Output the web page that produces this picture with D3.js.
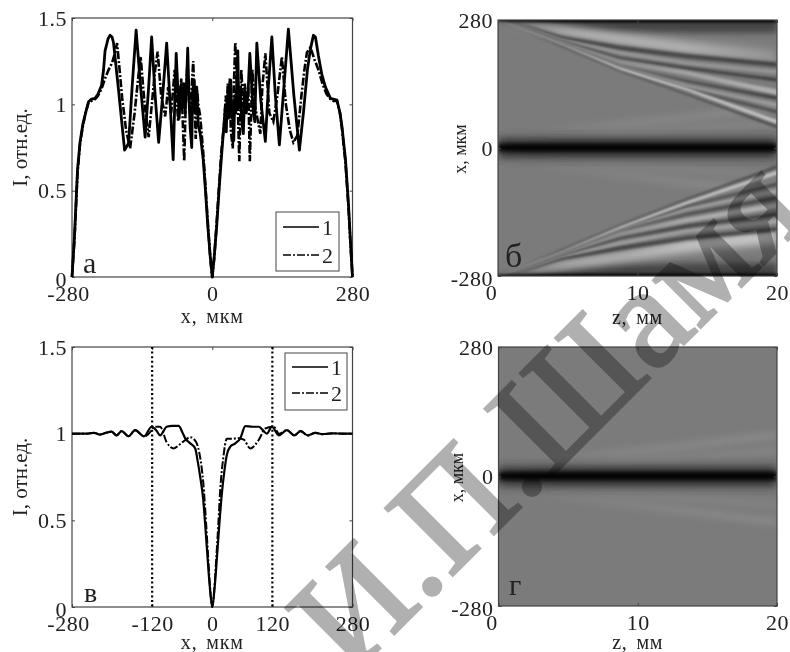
<!DOCTYPE html>
<html>
<head>
<meta charset="utf-8">
<script src="https://cdn.jsdelivr.net/npm/d3@7"></script>
<style>
  body { margin: 0; background: #fff; }
  text { font-family: "Liberation Serif", serif; fill: #222; }
</style>
</head>
<body>
<div id="d3-container"></div>
<script>
// panel a, x in mkm, I in rel. units
const curveA1 = [[-280,0],[-275,.24],[-269,.62],[-264,.78],[-258,.89],[-252,.96],[-247,1.015],[-241,1.03],[-234,1.035],[-228,1.06],[-221,1.11],[-217,1.2],[-214,1.31],[-208,1.38],[-204,1.40],[-200,1.39],[-197,1.355],[-187,1.08],[-175,.735],[-167,.775],[-160,1.1],[-152,1.43],[-143,1.1],[-134,.81],[-127,1.1],[-121,1.39],[-114,1.05],[-107,.78],[-99,1.05],[-91,1.355],[-84,1.0],[-78,.68],[-72,1.295],[-66,.92],[-63,1.1],[-60,.98],[-57,1.12],[-54,.95],[-51,1.15],[-49,1.325],[-46,1.0],[-44,.86],[-41,.75],[-39,1.08],[-36,1.14],[-34,.95],[-31,1.1],[-28,.88],[-24,.83],[-18,.68],[-14,.52],[-9,.3],[-4,.12],[0,0],[4,.12],[9,.3],[14,.52],[18,.68],[23,.87],[26,.98],[28,.84],[30,1.05],[33,.92],[35,1.1],[37,1.14],[39,.92],[41,1.0],[43,.79],[45,1.05],[47,.95],[49,1.15],[51,1.31],[53,.98],[56,1.1],[59,.9],[62,.83],[65,1.08],[68,.95],[72,1.1],[75,1.295],[82,.95],[85,.9],[89,1.355],[97,1.02],[106,.785],[112,1.1],[119,1.39],[126,1.05],[134,.765],[143,1.1],[152,1.435],[163,1.05],[174,.735],[182,.95],[190,1.2],[196,1.32],[202,1.40],[206,1.39],[212,1.28],[219,1.17],[226,1.10],[236,1.035],[242,1.03],[249,1.025],[255,.95],[259,.87],[266,.68],[272,.42],[276,.2],[280,0]];
const curveA2 = [[-280,0],[-275,.22],[-269,.6],[-264,.77],[-258,.88],[-252,.96],[-247,1.01],[-241,1.02],[-234,1.03],[-228,1.05],[-221,1.09],[-214,1.15],[-207,1.2],[-200,1.24],[-194,1.3],[-190,1.355],[-185,1.2],[-180,1.04],[-172,.85],[-164,.745],[-155,.95],[-148,1.15],[-143,1.275],[-135,1.0],[-127,.81],[-119,1.05],[-114,1.2],[-109,1.305],[-102,1.05],[-94,.93],[-88,1.1],[-82,.95],[-75,1.2],[-68,.9],[-62,1.15],[-56,.67],[-53,1.0],[-50,1.22],[-47,1.05],[-44,.95],[-41,1.1],[-38,1.25],[-35,1.0],[-33,.8],[-30,1.08],[-28,1.0],[-24,.93],[-18,.72],[-13,.5],[-8,.28],[-4,.11],[0,0],[4,.11],[8,.28],[13,.5],[18,.72],[24,.9],[27,1.05],[29,.98],[31,1.12],[33,1.0],[35,1.15],[37,.85],[41,.745],[43,1.1],[46,1.36],[48,1.18],[50,1.1],[54,.67],[58,1.2],[62,.98],[65,1.12],[68,1.0],[72,1.1],[75,.67],[80,1.2],[86,.98],[96,.83],[100,1.1],[106,1.295],[114,.95],[122,.9],[130,1.05],[139,1.275],[147,1.0],[155,.85],[162,.78],[170,.82],[178,1.05],[184,1.2],[189,1.30],[196,1.33],[204,1.26],[212,1.2],[220,1.12],[228,1.06],[236,1.03],[242,1.02],[249,1.02],[255,.95],[259,.86],[266,.66],[272,.4],[276,.19],[280,0]];

// panel v
const curveB1 = [[-280,1],[-250,1],[-236,1.005],[-224,.995],[-212,1.005],[-201,1.012],[-191,.99],[-181,1.015],[-167,.985],[-154,1.02],[-136,.985],[-121,1.04],[-112,1.02],[-104,.99],[-91,1.04],[-80,1.045],[-67,1.045],[-60,1.01],[-54,.973],[-44,.944],[-34,.915],[-29,.84],[-24,.75],[-18,.62],[-14,.47],[-10,.31],[-5,.12],[0,0],[5,.12],[10,.31],[14,.47],[19,.65],[24,.78],[29.3,.88],[36,.925],[46,.944],[56,.973],[66,1.044],[80,1.04],[93,1.04],[101,1.02],[109,1],[119,1.04],[133,.99],[149,1.02],[164,.99],[176,1.015],[191,.99],[206,1.005],[220,.997],[240,1.002],[260,1],[280,1]];
const curveB2 = [[-280,1],[-250,1],[-236,1.005],[-224,.995],[-212,1.005],[-201,1.012],[-191,.99],[-181,1.015],[-167,.985],[-154,1.02],[-136,.985],[-121,1.02],[-117,1.04],[-104,1.04],[-91,.95],[-77,.915],[-64,.94],[-53,.965],[-44,.98],[-32,.95],[-24,.86],[-18,.72],[-12,.47],[-8,.28],[-4,.1],[0,0],[4,.1],[8,.28],[12,.47],[16,.68],[22,.86],[29,.97],[40,.97],[50,.975],[63,.965],[76,.915],[93,.965],[106,1.03],[123,1.04],[133,1],[149,1.02],[164,.99],[176,1.015],[191,.99],[206,1.005],[220,.997],[240,1.002],[260,1],[280,1]];

const xTicksA = [-280, 0, 280];
const xTicksB = [-280, -120, 0, 120, 280];
const yTicks = [0, 0.5, 1, 1.5];
const zTicks = [0, 10, 20];
const mapTicks = [-280, 0, 280];
const dotted = [-120, 120];

// field maps: every band is a strip along z, [centre x], [half width], [level]; level 1 = background
const rayZ = [0, 2, 4.6, 8.75, 13.5, 20];

const edgeTop = [[280,280,280,280,280,280],[4,12,22,26,28,28],[.55,.55,.55,.55,.55,.55],3];
const edgeTopCore = [[282,282,282,282,282,282],[5,6,7,7,7,7],[0,0,0,0,0,0],1.5];
const edgeBot = [[-280,-280,-280,-280,-280,-280],[4,12,22,26,28,28],[.55,.55,.55,.55,.55,.55],3];
const edgeBotCore = [[-282,-282,-282,-282,-282,-282],[5,6,7,7,7,7],[0,0,0,0,0,0],1.5];
const centreWide = [[0,0,0,0,0,0],[20,20,21,21,21,21],[.35,.35,.35,.35,.35,.35],5];
const centreCore = [[1,1,1,1,1,1],[7,8,8,8,8,8],[0,0,0,0,0,0],2];

const raysUpper = [
  [[280,271,258,238,219,199],[1,4,8,11,13,14],[1.3,1.55,1.6,1.5,1.45,1.2],4],
  [[279,266,241,219,201,182],[1,3,4,5,5,5],[.8,.65,.55,.55,.55,.5],1.5],
  [[279,263,236,208,186,166],[1,2,3,4,4,4],[1,1.1,1.15,1.2,1.2,1.2],1.2],
  [[278,261,233,197,175,149],[1,2,3,3,4,4],[1,.8,.75,.65,.6,.55],1.2],
  [[278,259,230,188,164,122],[1,2,3,4,5,6],[1,1,1.1,1.15,1.3,1.4],1.2],
  [[278,258,228,180,147,109],[1,1,2,2,3,4],[1,.9,.9,.9,.65,.55],1],
  [[278,257,227,178,136,94],[1,1,2,2,3,4],[1,1,1,1.1,1.2,1.25],1],
  [[278,256,226,177,129,79],[1,1,2,2,3,4],[1,.9,.9,.85,.75,.65],1],
  [[278,256,225,173,129,57],[1,1,2,3,3,4],[1.1,1.5,1.45,1.55,1.55,1.55],1],
  [[277,254,222,168,118,46],[1,1,2,2,2,3],[.9,.7,.7,.7,.65,.6],1]
];
const raysLower = [
  [[-280,-271,-258,-238,-214,-193],[1,4,8,11,13,15],[1.3,1.5,1.55,1.45,1.6,1.6],4],
  [[-279,-266,-241,-219,-197,-177],[1,3,4,5,5,5],[.8,.65,.55,.55,.55,.55],1.5],
  [[-279,-263,-236,-208,-182,-160],[1,2,3,4,4,5],[1,1.1,1.2,1.25,1.25,1.3],1.2],
  [[-278,-261,-233,-197,-171,-145],[1,2,3,3,4,4],[1,.8,.75,.65,.6,.55],1.2],
  [[-278,-259,-230,-188,-158,-126],[1,2,3,4,5,6],[1,1,1.1,1.15,1.35,1.4],1.2],
  [[-278,-258,-228,-180,-145,-109],[1,1,2,2,3,4],[1,.9,.85,.85,.65,.6],1],
  [[-278,-257,-227,-176,-134,-94],[1,1,2,2,3,4],[1,1,1.05,1.15,1.25,1.3],1],
  [[-278,-256,-226,-175,-127,-79],[1,1,2,2,3,4],[1,.9,.85,.8,.75,.65],1],
  [[-278,-256,-225,-173,-120,-54],[1,1,2,3,3,4],[1.1,1.4,1.4,1.5,1.55,1.55],1],
  [[-277,-254,-222,-168,-112,-41],[1,1,2,2,2,3],[.9,.7,.7,.7,.65,.6],1]
];
const faintRays = [
  [[40,40,42,52,66,90],[4,4,6,8,9,9],[1,1,1.03,1.08,1.08,1.1],3],
  [[-42,-42,-46,-58,-75,-98],[4,4,6,8,9,9],[1,1,1.03,1.06,1.08,1.1],3],
  [[30,30,30,36,42,56],[3,3,5,6,6,7],[1,1,1.02,1.06,1.06,1.08],3],
  [[-30,-32,-34,-40,-48,-62],[3,3,5,6,6,7],[1,1,1.02,1.05,1.06,1.06],3]
];

const watermarkText = "И.П.Шамя";

const width = 790,
  height = 652;

const panelA = { left: 72, right: 352.5, top: 18, bottom: 277 },
  panelB = { left: 72, right: 352.5, top: 347, bottom: 607 },
  panelC = { left: 498, right: 777, top: 20, bottom: 276 },
  panelD = { left: 498.5, right: 777, top: 347, bottom: 606 };

const svg = d3.select("#d3-container")
  .append("svg")
  .attr("width", width)
  .attr("height", height)
  .style("display", "block");

const defs = svg.append("defs");

const level = d3.scaleLinear()
  .domain([0, 1, 2])
  .range(["#000000", "#7b7b7b", "#ffffff"]);

function blurId(s) {
  const id = "blur" + String(s).replace(".", "_");
  if (defs.select("#" + id).empty()) {
    defs.append("filter")
      .attr("id", id)
      .attr("filterUnits", "userSpaceOnUse")
      .attr("x", 0).attr("y", 0)
      .attr("width", width).attr("height", height)
      .append("feGaussianBlur")
      .attr("stdDeviation", s);
  }
  return id;
}

function axes(g, p, xScale, yScale, xVals, yVals, yFmt, firstShift) {
  g.append("rect")
    .attr("x", p.left).attr("y", p.top)
    .attr("width", p.right - p.left).attr("height", p.bottom - p.top)
    .attr("fill", "none").attr("stroke", "#444").attr("stroke-width", 1.2);

  const xAxis = g.append("g")
    .attr("transform", `translate(0, ${p.bottom})`)
    .call(d3.axisBottom(xScale).tickValues(xVals).tickSize(-3).tickPadding(6).tickFormat(d => d));
  const yAxis = g.append("g")
    .attr("transform", `translate(${p.left}, 0)`)
    .call(d3.axisLeft(yScale).tickValues(yVals).tickSize(-3).tickPadding(5).tickFormat(yFmt));

  g.append("g")
    .attr("transform", `translate(0, ${p.top})`)
    .call(d3.axisTop(xScale).tickValues(xVals).tickSize(-3).tickFormat(""));
  g.append("g")
    .attr("transform", `translate(${p.right}, 0)`)
    .call(d3.axisRight(yScale).tickValues(yVals).tickSize(-3).tickFormat(""));

  g.selectAll(".domain").remove();
  g.selectAll(".tick line").attr("stroke", "#444");
  [xAxis, yAxis].forEach(a => a.selectAll("text")
    .attr("font-family", "Liberation Serif")
    .attr("font-size", 22)
    .attr("letter-spacing", 0.5)
    .attr("fill", "#222"));
  xAxis.selectAll("text").attr("y", 8).attr("dy", "0.71em")
    .attr("dx", d => d === xVals[0] ? firstShift : 0);
  yAxis.selectAll("text").attr("dy", d => d === yVals[0] ? "0.45em" : "0.32em");
}

// line panels
function linePanel(p, xVals, curve1, curve2, letter, letterPos, legend, xLab, curveType) {
  const g = svg.append("g");
  const x = d3.scaleLinear().domain([-280, 280]).range([p.left, p.right]);
  const y = d3.scaleLinear().domain([0, 1.5]).range([p.bottom, p.top]);
  const line = d3.line().x(d => x(d[0])).y(d => y(d[1])).curve(curveType);

  axes(g, p, x, y, xVals, yTicks, d => d, -4);

  g.append("path").datum(curve1)
    .attr("d", line).attr("fill", "none").attr("stroke", "#000")
    .attr("stroke-width", letter == "а" ? 2.8 : 2.2).attr("stroke-linejoin", "round");
  g.append("path").datum(curve2)
    .attr("d", line).attr("fill", "none").attr("stroke", "#000")
    .attr("stroke-width", letter == "а" ? 2.6 : 2).attr("stroke-dasharray", "8,2,2,2");

  g.append("text").attr("x", letterPos[0]).attr("y", letterPos[1])
    .attr("font-size", letterPos[2]).text(letter);

  g.append("rect").attr("x", legend.x).attr("y", legend.y)
    .attr("width", legend.w).attr("height", legend.h)
    .attr("fill", "#fff").attr("stroke", "#444");
  [["1", null, legend.l1], ["2", "8,2,2,2", legend.l2]].forEach(d => {
    g.append("line")
      .attr("x1", legend.x + 7).attr("x2", legend.x + 43)
      .attr("y1", d[2]).attr("y2", d[2])
      .attr("stroke", "#000").attr("stroke-width", 1.6)
      .attr("stroke-dasharray", d[1]);
    g.append("text").attr("x", legend.x + 46).attr("y", d[2] + 8)
      .attr("font-size", 22).text(d[0]);
  });

  g.append("text")
    .attr("x", (p.left + p.right) / 2).attr("y", xLab)
    .attr("text-anchor", "middle").attr("font-size", 20)
    .attr("letter-spacing", 0.8).attr("word-spacing", 3).text("x, мкм");
  g.append("text")
    .attr("transform", `translate(27, ${(p.top + p.bottom) / 2})rotate(-90)`)
    .attr("text-anchor", "middle").attr("font-size", 21)
    .text("I, отн.ед.");
  return { g, x, y };
}

const a = linePanel(panelA, xTicksA, curveA1, curveA2, "а", [83, 273, 30],
  { x: 276, y: 212, w: 63, h: 59, l1: 227, l2: 255 }, 323, d3.curveLinear);
const b = linePanel(panelB, xTicksB, curveB1, curveB2, "в", [84, 602, 28],
  { x: 285, y: 353, w: 62, h: 57, l1: 367, l2: 393 }, 649, d3.curveMonotoneX);

b.g.selectAll("line.dots")
  .data(dotted)
  .join("line")
  .attr("class", "dots")
  .attr("x1", d => b.x(d)).attr("x2", d => b.x(d))
  .attr("y1", panelB.top).attr("y2", panelB.bottom)
  .attr("stroke", "#000").attr("stroke-width", 2.2)
  .attr("stroke-dasharray", "2,2.6");

// map panels
let gradCount = 0;
function drawBands(g, x, y, bands) {
  bands.forEach(band => {
    const [centre, half, lev, blur] = band;
    const id = "grad" + (gradCount++);
    const grad = defs.append("linearGradient")
      .attr("id", id)
      .attr("gradientUnits", "userSpaceOnUse")
      .attr("x1", x(rayZ[0])).attr("x2", x(rayZ[rayZ.length - 1]))
      .attr("y1", 0).attr("y2", 0);
    rayZ.forEach((z, i) => {
      grad.append("stop")
        .attr("offset", z / rayZ[rayZ.length - 1])
        .attr("stop-color", level(lev[i]));
    });
    const area = d3.area()
      .x((d, i) => x(rayZ[i]))
      .y0((d, i) => y(d + half[i]))
      .y1((d, i) => y(d - half[i]));
    g.append("path").datum(centre)
      .attr("d", area)
      .attr("fill", `url(#${id})`)
      .attr("filter", `url(#${blurId(blur)})`);
  });
}

function mapPanel(p, id, bands, letter, letterPos, xLabY, yLabX) {
  const g = svg.append("g");
  const x = d3.scaleLinear().domain([0, 20]).range([p.left, p.right]);
  const y = d3.scaleLinear().domain([-280, 280]).range([p.bottom, p.top]);

  defs.append("clipPath").attr("id", id).append("rect")
    .attr("x", p.left).attr("y", p.top)
    .attr("width", p.right - p.left).attr("height", p.bottom - p.top);

  const m = g.append("g").attr("clip-path", `url(#${id})`);
  m.append("rect")
    .attr("x", p.left).attr("y", p.top)
    .attr("width", p.right - p.left).attr("height", p.bottom - p.top)
    .attr("fill", level(1));
  drawBands(m, x, y, bands);

  axes(g, p, x, y, zTicks, mapTicks, d => d, -7);
  g.append("text").attr("x", letterPos[0]).attr("y", letterPos[1])
    .attr("font-size", letterPos[2]).attr("fill", "#111").text(letter);
  g.append("text")
    .attr("x", (p.left + p.right) / 2).attr("y", xLabY)
    .attr("text-anchor", "middle").attr("font-size", 20)
    .attr("letter-spacing", 0.8).attr("word-spacing", 3).text("z, мм");
  g.append("text")
    .attr("transform", `translate(${yLabX}, ${(p.top + p.bottom) / 2 + 1})rotate(-90)`)
    .attr("text-anchor", "middle").attr("font-size", 18)
    .text("x, мкм");
}

mapPanel(panelC, "clipC",
  [edgeTop, edgeBot, ...faintRays, ...raysUpper, ...raysLower, edgeTopCore, edgeBotCore, centreWide, centreCore],
  "б", [505, 267, 34], 324, 466);
mapPanel(panelD, "clipD",
  [...faintRays, centreWide, centreCore],
  "г", [509, 595, 30], 649, 463);

// watermark on top of everything
svg.append("text")
  .attr("transform", "translate(350, 678)rotate(-45)")
  .attr("font-size", 145)
  .style("fill", "#b0b0b0")
  .style("stroke", "#b0b0b0")
  .style("stroke-width", 3)
  .style("mix-blend-mode", "multiply")
  .text(watermarkText);
</script>
</body>
</html>
